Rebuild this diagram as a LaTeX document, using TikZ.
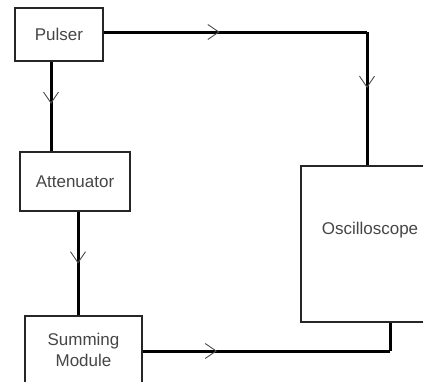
\documentclass[tikz,border=0pt]{standalone}
\usepackage{fontspec}
\setmainfont{Liberation Sans}
\usetikzlibrary{arrows.meta,decorations.markings}
\definecolor{txt}{RGB}{70,70,70}
\tikzset{
  box/.style={draw=black!85, line width=1.6pt, fill=white, inner sep=0pt,
    text=txt, font=\fontsize{17}{21}\selectfont, align=center},
  wire/.style={line width=3pt, black},
  midarrow/.style={postaction={decorate}, decoration={markings,
    mark=at position #1 with {\arrow[black!70]{Straight Barb[length=11pt,width=15pt,line width=0.9pt]}}}}
}
\begin{document}
\begin{tikzpicture}[x=1pt,y=-1pt]
\useasboundingbox (0,0) rectangle (423,381);
\node[box, minimum width=88pt, minimum height=53pt] (pulser) at (59,34.5) {Pulser};
\node[box, minimum width=110pt, minimum height=59pt] (att) at (75,181.5) {Attenuator};
\node[box, minimum width=117pt, minimum height=68pt] (summ) at (83.5,350) {Summing\\Module};
\node[box, minimum width=124pt, minimum height=156pt] (osc) at (363,244) {};
\node[text=txt, font=\fontsize{17}{21}\selectfont] (osclabel) at (370,230) {Oscilloscope};
\coordinate (c1) at (367,32);
\coordinate (c2) at (390,351);
\draw[wire, midarrow=0.44] (pulser.east |- c1) -- (c1);
\draw[wire, midarrow=0.42] (c1) -- (c1 |- osc.north);
\draw[wire, midarrow=0.47] ([xshift=-8pt]pulser.south) -- ([xshift=-8pt]pulser.south |- att.north);
\draw[wire, midarrow=0.5] ([xshift=3pt]att.south) -- ([xshift=3pt]att.south |- summ.north);
\draw[wire, midarrow=0.3] (summ.east |- c2) -- (c2);
\draw[wire] (c2) -- (c2 |- osc.south);
\end{tikzpicture}
\end{document}
